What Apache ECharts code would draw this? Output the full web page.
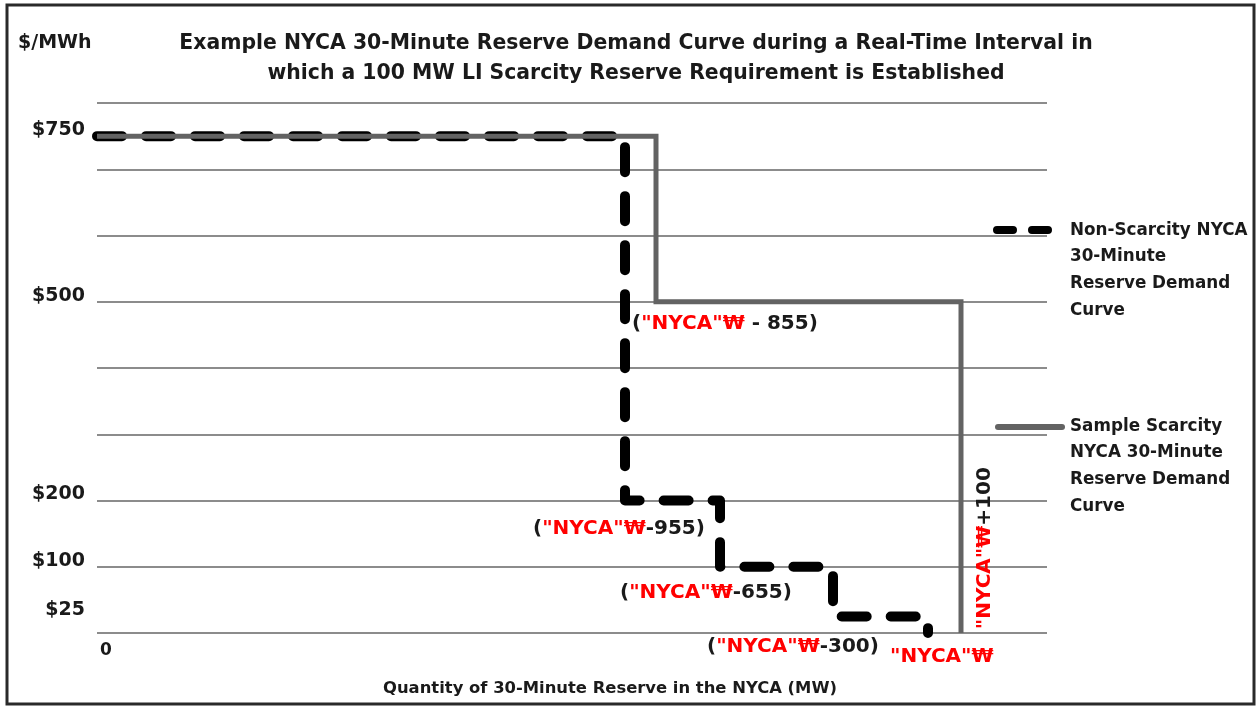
<!DOCTYPE html>
<html>
<head>
<meta charset="utf-8">
<script src="https://cdn.jsdelivr.net/npm/echarts@6/dist/echarts.min.js"></script>
<style>
html,body{margin:0;padding:0;background:#fff;}
#chart{width:1257px;height:706px;}
</style>
</head>
<body>
<div id="chart"></div>
<script>
// ---- data ----
const priceTicks = [25, 100, 200, 500, 750];
const xTickLabels = ['0'];
const nonScarcityX = [0, 528, 528, 623, 623, 736, 736, 831, 831];
const nonScarcityY = [750, 750, 200, 200, 100, 100, 25, 25, 0];
const scarcityX = [0, 559, 559, 864, 864];
const scarcityY = [750, 750, 500, 500, 0];
const annotX = [535, 436, 523, 610, 793];
const annotY = [466, 158, 60, -21, -36];
const annotPrefix = ['(', '(', '(', '(', ''];
const annotSuffix = [' - 855)', '-955)', '-655)', '-300)', ''];
const rotX = [888];
const rotY = [128];
const rotSuffix = ['+100'];
const seriesNames = ['Non-Scarcity NYCA\n30-Minute\nReserve Demand\nCurve', 'Sample Scarcity\nNYCA 30-Minute\nReserve Demand\nCurve'];
const titleText = 'Example NYCA 30-Minute Reserve Demand Curve during a Real-Time Interval in\nwhich a 100 MW LI Scarcity Reserve Requirement is Established';
const yUnit = '$/MWh';
const xName = 'Quantity of 30-Minute Reserve in the NYCA (MW)';
const tag = '"NYCA"\u20A9';

const FONT = "'DejaVu Sans', 'Noto Sans', sans-serif";
const TXT = '#1a1a1a';

const zip = (xs, ys) => xs.map((x, i) => [x, ys[i]]);

const chart = echarts.init(document.getElementById('chart'), null, {renderer: 'canvas'});

const annotData = annotX.map((x, i) => ({value: [x, annotY[i]], pre: annotPrefix[i], suf: annotSuffix[i]}));
const rotData = rotX.map((x, i) => ({value: [x, rotY[i]], suf: rotSuffix[i]}));

const rich = {
  k: {color: TXT, fontFamily: FONT, fontWeight: 'bold', fontSize: 20},
  r: {color: '#ff0000', fontFamily: FONT, fontWeight: 'bold', fontSize: 20}
};

const option = {
  animation: false,
  backgroundColor: '#fff',
  title: [
    {text: titleText, left: 631, top: 24, textAlign: 'center',
     textStyle: {fontFamily: FONT, fontWeight: 'bold', fontSize: 20.4, color: TXT, lineHeight: 30}},
    {text: yUnit, left: 13, top: 29,
     textStyle: {fontFamily: FONT, fontWeight: 'bold', fontSize: 19, color: TXT}}
  ],
  grid: {left: 97, right: 210, top: 103, bottom: 73},
  xAxis: {
    type: 'value', min: 0, max: 950, interval: 950,
    axisLine: {show: false}, axisTick: {show: false}, splitLine: {show: false},
    axisLabel: {formatter: v => v === 0 ? xTickLabels[0] : '', align: 'left', padding: [0, 0, 0, 3], margin: 9,
      fontFamily: FONT, fontWeight: 'bold', fontSize: 17, color: TXT},
    name: xName, nameLocation: 'middle', nameGap: 48,
    nameTextStyle: {fontFamily: FONT, fontWeight: 'bold', fontSize: 16.4, color: TXT, padding: [0, 0, 0, 76]}
  },
  yAxis: [
    {type: 'value', min: 0, max: 800, interval: 100,
     axisLine: {show: false}, axisTick: {show: false}, axisLabel: {show: false},
     splitLine: {lineStyle: {color: '#8c8c8c', width: 2}}},
    {type: 'value', position: 'left', min: 0, max: 800, interval: 25,
     axisLine: {show: false}, axisTick: {show: false}, splitLine: {show: false},
     axisLabel: {formatter: v => priceTicks.includes(v) ? '$' + v : '', margin: 12,
       verticalAlign: 'bottom', lineHeight: 12,
       fontFamily: FONT, fontWeight: 'bold', fontSize: 19, color: TXT}}
  ],
  series: [
    {name: seriesNames[0], type: 'line', data: zip(nonScarcityX, nonScarcityY), symbol: 'none',
     lineStyle: {color: '#000', width: 10, type: [25, 24], cap: 'round', join: 'round'}, z: 2},
    {name: seriesNames[1], type: 'line', data: zip(scarcityX, scarcityY), symbol: 'none',
     lineStyle: {color: '#636363', width: 5, cap: 'butt', join: 'miter'}, z: 3},
    {type: 'scatter', data: annotData, symbolSize: 0, clip: false, silent: true, z: 5,
     itemStyle: {opacity: 1},
     label: {show: true, position: [0, 0], align: 'left', verticalAlign: 'middle', color: TXT,
       fontWeight: 'bold', fontFamily: FONT, fontSize: 20,
       formatter: p => (p.data.pre ? '{k|' + p.data.pre + '}' : '') + '{r|' + tag + '}' + (p.data.suf ? '{k|' + p.data.suf + '}' : ''),
       rich: rich}},
    {type: 'scatter', data: rotData, symbolSize: 0, clip: false, silent: true, z: 5,
     itemStyle: {opacity: 1},
     label: {show: true, position: [0, 0], align: 'center', verticalAlign: 'middle', rotate: 90, color: TXT,
       fontWeight: 'bold', fontFamily: FONT, fontSize: 20,
       formatter: p => '{r|' + tag + '}{k|' + p.data.suf + '}', rich: rich}}
  ],
  graphic: [
    {type: 'rect', shape: {x: 7, y: 5, width: 1247, height: 699}, style: {fill: 'none', stroke: '#2a2a2a', lineWidth: 3}, silent: true, z: 100},
    {type: 'polyline', shape: {points: [[997, 230], [1049, 230]]},
     style: {stroke: '#000', lineWidth: 8, lineDash: [16, 19], lineCap: 'round'}},
    {type: 'text', left: 1070, top: 217,
     style: {text: seriesNames[0], fontFamily: FONT, fontWeight: 'bold', fontSize: 16.8, fill: TXT, lineHeight: 26.7}},
    {type: 'polyline', shape: {points: [[998, 427], [1062, 427]]},
     style: {stroke: '#636363', lineWidth: 6, lineCap: 'round'}},
    {type: 'text', left: 1070, top: 413,
     style: {text: seriesNames[1], fontFamily: FONT, fontWeight: 'bold', fontSize: 16.8, fill: TXT, lineHeight: 26.7}}
  ]
};
chart.setOption(option);
</script>
</body>
</html>
